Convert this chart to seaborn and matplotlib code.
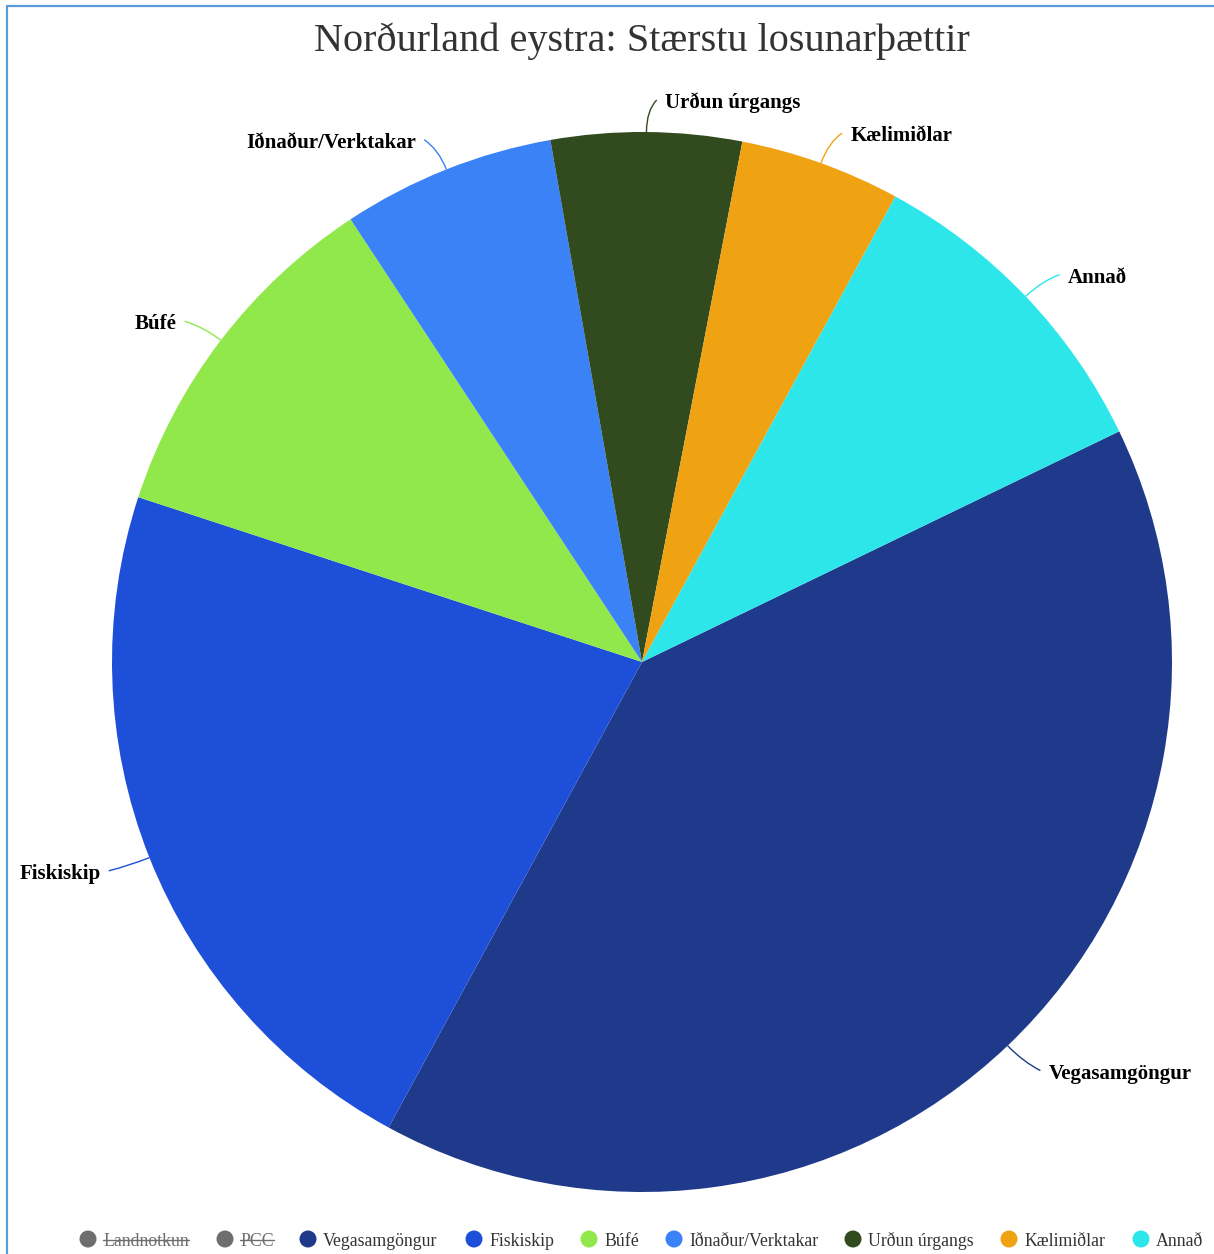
import numpy as np
import matplotlib
matplotlib.use("Agg")
import matplotlib.pyplot as plt
import seaborn as sns
from matplotlib.path import Path
from matplotlib.patches import PathPatch, Ellipse
from matplotlib.lines import Line2D

# Emission sources (share of total, %)
categories = ["Vegasamgöngur", "Fiskiskip", "Búfé", "Iðnaður/Verktakar",
              "Urðun úrgangs", "Kælimiðlar", "Annað"]
shares = [40.1, 22.1, 10.7, 6.5, 5.8, 4.9, 9.9]
colors = ["#1f3a8a", "#1e4fd8", "#90e84a", "#3b82f6",
          "#314a1e", "#efa212", "#2de6ea"]
hidden_series = ["Landnotkun", "PCC"]
title = "Norðurland eystra: Stærstu losunarþættir"

sns.set_theme(style="white")
plt.rcParams["font.family"] = ["Liberation Serif", "DejaVu Serif"]

W, H = 1214, 1254
fig = plt.figure(figsize=(W / 100, H / 100), dpi=100)
fig.patch.set_facecolor("white")

# pie centre (642, 662) px, radius 530 px
cx, cy, R = 642, 662, 530
ax = fig.add_axes([(cx - R) / W, (H - cy - R) / H, 2 * R / W, 2 * R / H])
ax.axis("off")

wedges, _ = ax.pie(shares, colors=colors, startangle=25.8, counterclock=False,
                   radius=1.0, wedgeprops=dict(linewidth=0))
ax.set_xlim(-1, 1)
ax.set_ylim(-1, 1)
ax.set_aspect("equal")

px = 1.0 / R
for w, name, col in zip(wedges, categories, colors):
    mid = np.deg2rad((w.theta1 + w.theta2) / 2.0)
    d = np.array([np.cos(mid), np.sin(mid)])
    p0 = d * 1.0
    p1 = d * (1.0 + 22 * px)
    anchor = d * (1.0 + 33 * px)
    side = 1 if d[0] >= 0 else -1
    p2 = np.array([anchor[0] + side * 10 * px, anchor[1] - 1 * px])
    path = Path([p0, p1, p2], [Path.MOVETO, Path.CURVE3, Path.CURVE3])
    ax.add_patch(PathPatch(path, facecolor="none", edgecolor=col, lw=1.0,
                           clip_on=False))
    ax.text(p2[0] + side * 8 * px, p2[1] - 3 * px, name,
            ha="left" if side > 0 else "right", va="center",
            fontsize=15, fontweight="bold", color="#000000", clip_on=False)

# title
fig.text(642 / W, 1 - 41 / H, title, ha="center", va="center",
         fontsize=29, color="#333333")

# legend row
legend_items = [(n, "#6e6e6e", True) for n in hidden_series] + \
               [(n, c, False) for n, c in zip(categories, colors)]
marker_x = [88, 225, 308, 474, 589, 674, 853, 1009, 1141]
ly = 1241
fig.canvas.draw()
renderer = fig.canvas.get_renderer()
for (name, col, hidden), mx in zip(legend_items, marker_x):
    fig.add_artist(Ellipse((mx / W, 1 - (ly - 2) / H), 17 / W, 17 / H,
                           transform=fig.transFigure, facecolor=col,
                           edgecolor="none"))
    t = fig.text((mx + 15) / W, 1 - ly / H, name, ha="left", va="center",
                 fontsize=12.8, color="#6e6e6e" if hidden else "#333333")
    if hidden:
        bb = t.get_window_extent(renderer=renderer)
        ymid = 1 - (ly - 1) / H
        fig.add_artist(Line2D([bb.x0 / W, bb.x1 / W], [ymid, ymid],
                              transform=fig.transFigure, color="#6e6e6e", lw=1.0))

# frame lines along top and left edge
fig.add_artist(Line2D([7 / W, 7 / W], [0, 1 - 6 / H], transform=fig.transFigure,
                      color="#5b9bd5", lw=1.6))
fig.add_artist(Line2D([7 / W, 1], [1 - 6 / H, 1 - 6 / H], transform=fig.transFigure,
                      color="#5b9bd5", lw=1.6))

fig.savefig("out.png", dpi=100, facecolor="white")
